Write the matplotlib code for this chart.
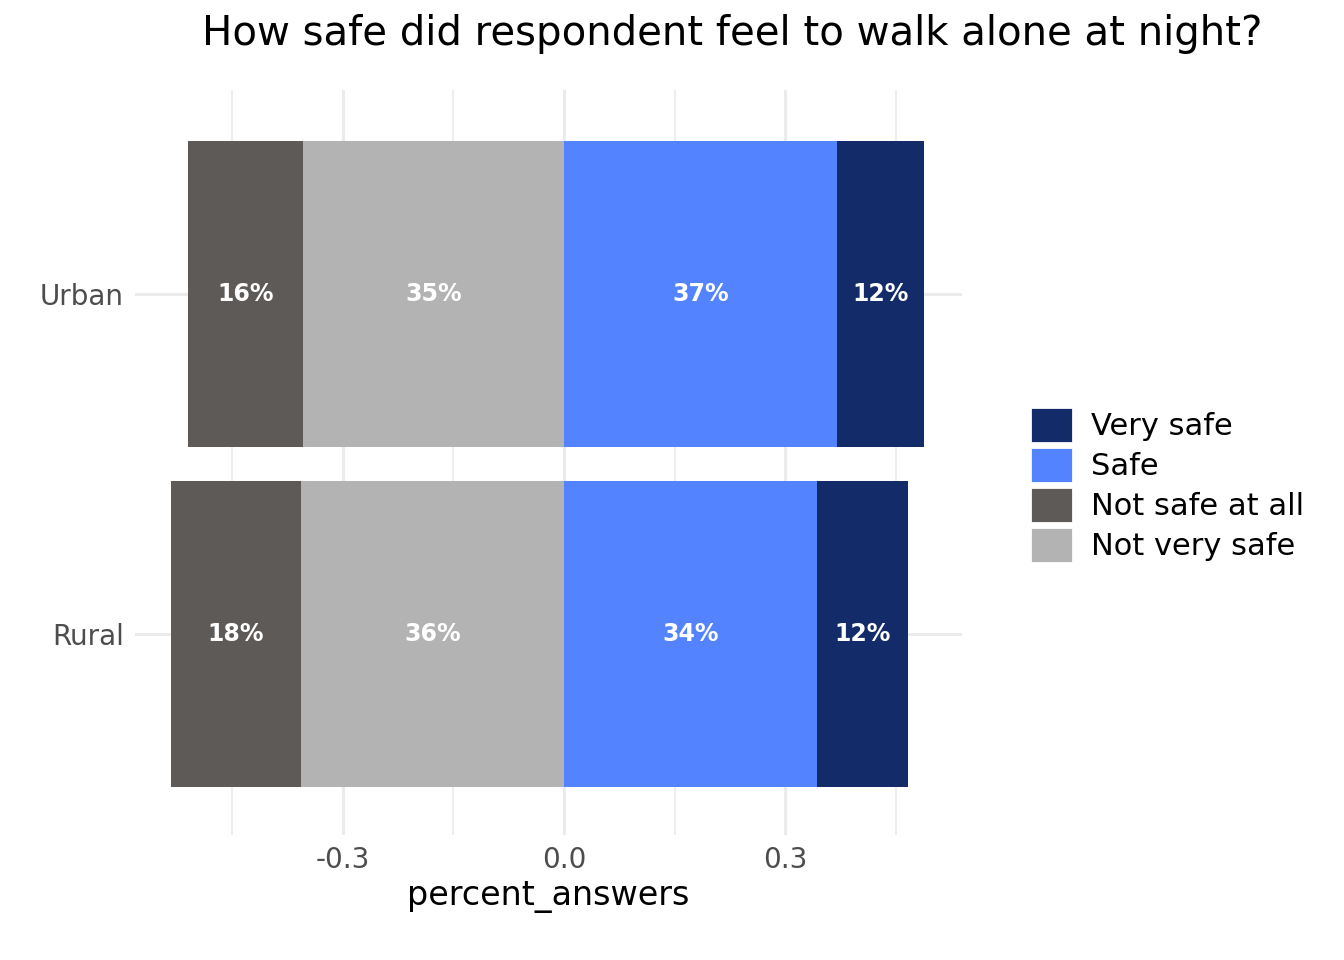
import matplotlib
matplotlib.use("Agg")
import matplotlib.pyplot as plt
from matplotlib.patches import Patch

areas = ["Rural", "Urban"]
not_safe_at_all = [0.176, 0.156]
not_very_safe = [0.357, 0.354]
safe = [0.343, 0.371]
very_safe = [0.124, 0.118]

colors = {"Very safe": "#132B69", "Safe": "#5383FF",
          "Not safe at all": "#5E5A58", "Not very safe": "#B3B3B3"}

fig = plt.figure(figsize=(6.72, 4.8), dpi=200)
ax = fig.add_axes([135/1344, 1-835/960, (962-135)/1344, (835-90)/960])

y = [1, 2]
h = 0.9
segs = [
    ("Not very safe", [-v for v in not_very_safe], [0, 0], not_very_safe),
    ("Not safe at all", [-v for v in not_safe_at_all],
     [-v for v in not_very_safe], not_safe_at_all),
    ("Safe", safe, [0, 0], safe),
    ("Very safe", very_safe, safe, very_safe),
]
for name, widths, lefts, vals in segs:
    ax.barh(y, widths, left=lefts, height=h, color=colors[name], zorder=2)
    for yi, w, l, v in zip(y, widths, lefts, vals):
        ax.text(l + w/2, yi, f"{round(v*100):.0f}%", ha="center", va="center",
                color="white", fontsize=8.5, fontweight="bold", zorder=3)

ax.set_xlim(-0.582, 0.540)
ax.set_ylim(0.41, 2.6)
ax.set_xticks([-0.3, 0.0, 0.3])
ax.set_xticklabels(["-0.3", "0.0", "0.3"])
ax.set_xticks([-0.45, -0.15, 0.15, 0.45], minor=True)
ax.set_yticks(y)
ax.set_yticklabels(areas)
ax.grid(True, which="major", color="#EBEBEB", lw=1.1, zorder=0)
ax.grid(True, which="minor", axis="x", color="#EBEBEB", lw=0.6, zorder=0)
ax.tick_params(which="both", length=0, labelsize=10, labelcolor="#4D4D4D", pad=4)
for s in ax.spines.values():
    s.set_visible(False)
ax.set_xlabel("percent_answers", fontsize=12, labelpad=2)

fig.suptitle("How safe did respondent feel to walk alone at night?",
             fontsize=14.5, x=0.545, y=0.985)

order = ["Very safe", "Safe", "Not safe at all", "Not very safe"]
handles = [Patch(facecolor=colors[k], edgecolor="white") for k in order]
fig.legend(handles, order, loc="center left", bbox_to_anchor=(0.755, 0.495),
           frameon=False, fontsize=11, handlelength=1.4, handleheight=1.45,
           handletextpad=0.6, labelspacing=0.12, borderpad=0)

fig.savefig("out.png", dpi=200)
